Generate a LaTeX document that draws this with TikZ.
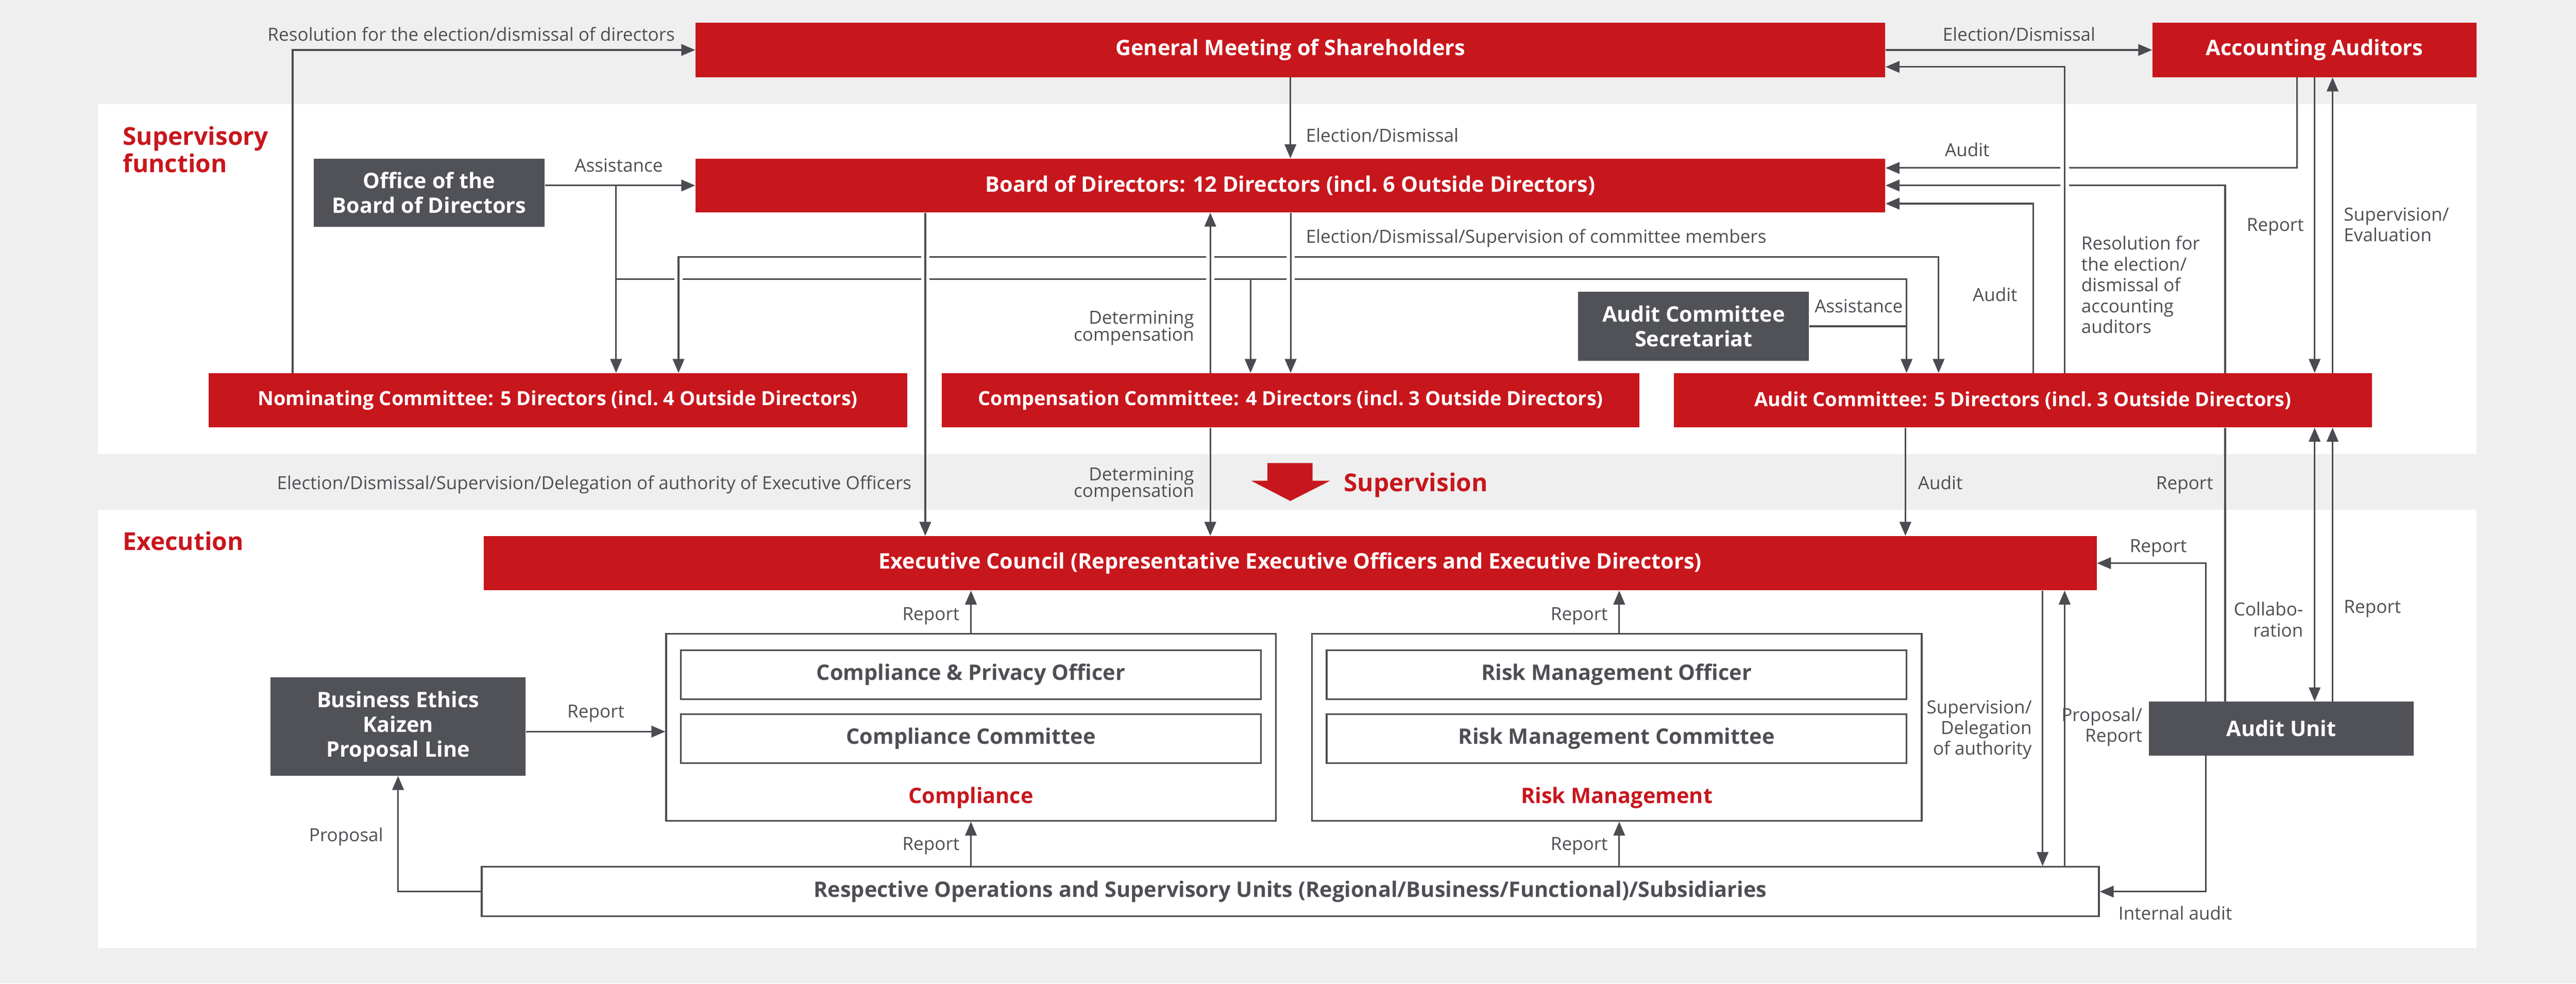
\documentclass[tikz,border=0pt]{standalone}
\usepackage{fontspec}
\setmainfont{Open Sans}
\usetikzlibrary{arrows.meta}
\definecolor{bred}{HTML}{C8161D}
\definecolor{dgray}{HTML}{505257}
\definecolor{lgray}{HTML}{EEEFEE}
\definecolor{lcol}{HTML}{4B4C51}
\definecolor{tcol}{HTML}{4E4F54}
\tikzset{
  redbox/.style={fill=bred, draw=none, text=white, inner sep=0pt, font=\fontsize{13}{15}\selectfont\bfseries},
  combox/.style={redbox, font=\fontsize{11.9}{14}\selectfont\bfseries},
  graybox/.style={fill=dgray, draw=none, text=white, inner sep=0pt, align=center, font=\fontsize{13}{15}\selectfont\bfseries},
  outerbox/.style={fill=white, draw=lcol, line width=1pt, inner sep=0pt},
  innerbox/.style={fill=white, draw=lcol, line width=1pt, inner sep=0pt, text=tcol, font=\fontsize{13}{15}\selectfont\bfseries},
  lbl/.style={text=tcol, inner sep=0pt, font=\fontsize{11}{12.7}\selectfont},
  redlbl/.style={text=bred, inner sep=0pt, font=\fontsize{13}{15}\selectfont\bfseries},
  titlelbl/.style={text=bred, inner sep=0pt, font=\fontsize{15}{17}\selectfont\bfseries},
  conn/.style={draw=lcol, line width=1pt},
  arr/.style={conn, -{Triangle[length=8.5pt,width=7pt]}},
  dblarr/.style={conn, {Triangle[length=8.5pt,width=7pt]}-{Triangle[length=8.5pt,width=7pt]}}
}
\begin{document}
\begin{tikzpicture}[x=1pt,y=-1pt]
\useasboundingbox (0,0) rectangle (1568,598.4);
\fill[lgray] (0,0) rectangle (1568,598.4);
\fill[white] (59.7,63.4) rectangle (1507.5,276.4);
\fill[white] (59.7,310.1) rectangle (1507.5,576.6);

% lanes
\coordinate (xres) at (178.1,0);
\coordinate (xas) at (375,0);
\coordinate (xe1) at (413,0);
\coordinate (xbe) at (563.2,0);
\coordinate (xdc) at (736.7,0);
\coordinate (xas2) at (761.2,0);
\coordinate (xas3) at (1160.5,0);
\coordinate (xae) at (1159.8,0);
\coordinate (xe3) at (1180,0);
\coordinate (xaud) at (1237.6,0);
\coordinate (xsd) at (1243.3,0);
\coordinate (xra) at (1256.7,0);
\coordinate (xpr) at (1256.7,0);
\coordinate (xie) at (1342.7,0);
\coordinate (xau) at (1354.4,0);
\coordinate (xaa) at (1398.2,0);
\coordinate (xr1) at (1408.9,0);
\coordinate (xr2) at (1419.8,0);
\coordinate (xcr) at (591,0);
\coordinate (xrr) at (985.6,0);
\coordinate (yra) at (0,40.7);
\coordinate (yaa) at (0,102.2);
\coordinate (yaud) at (0,123.9);
\coordinate (ye) at (0,156.4);
\coordinate (yas) at (0,169.7);
\coordinate (ybr) at (0,445.1);

% nodes (supervisory)
\node[redbox, minimum width=724.1pt, minimum height=33pt] (gms) at (785.45,30.4) {General Meeting of Shareholders};
\node[redbox, minimum width=197.3pt, minimum height=33pt] (acc) at (1408.85,30.4) {Accounting Auditors};
\node[redbox, minimum width=724.1pt, minimum height=32.7pt] (board) at (785.45,112.85) {Board of Directors: 12 Directors (incl.~6 Outside Directors)};
\node[graybox, minimum width=140.5pt, minimum height=41.5pt] (office) at (261.25,117.25) {Office of the\\Board of Directors};
\node[graybox, minimum width=140.4pt, minimum height=42pt] (sec) at (1030.9,198.5) {Audit Committee\\Secretariat};
\node[combox, minimum width=425.3pt, minimum height=32.9pt] (nom) at (339.55,243.55) {Nominating Committee: 5 Directors (incl.~4 Outside Directors)};
\node[combox, minimum width=424.8pt, minimum height=32.9pt] (comp) at (785.6,243.55) {Compensation Committee: 4 Directors (incl.~3 Outside Directors)};
\node[combox, minimum width=425pt, minimum height=32.9pt] (ac) at (1231.4,243.55) {Audit Committee: 5 Directors (incl.~3 Outside Directors)};

% nodes (execution)
\node[redbox, minimum width=981.7pt, minimum height=32.9pt] (exec) at (785.35,342.65) {Executive Council (Representative Executive Officers and Executive Directors)};
\node[outerbox, minimum width=371pt, minimum height=113.8pt] (cout) at (591,442.5) {};
\node[innerbox, minimum width=353.3pt, minimum height=29.9pt] (cpo) at (590.95,410.45) {Compliance \& Privacy Officer};
\node[innerbox, minimum width=353.3pt, minimum height=29.9pt] (ccom) at (590.95,449.45) {Compliance Committee};
\node[redlbl, anchor=base] (clbl) at (591,488.6) {Compliance};
\node[outerbox, minimum width=371.1pt, minimum height=113.8pt] (rout) at (984.15,442.5) {};
\node[innerbox, minimum width=353pt, minimum height=29.9pt] (rmo) at (984,410.45) {Risk Management Officer};
\node[innerbox, minimum width=353pt, minimum height=29.9pt] (rmc) at (984,449.45) {Risk Management Committee};
\node[redlbl, anchor=base] (rlbl) at (984.1,488.6) {Risk Management};
\node[graybox, minimum width=155.4pt, minimum height=59.8pt] (biz) at (242.3,442) {Business Ethics\\Kaizen\\Proposal Line};
\node[innerbox, minimum width=984.4pt, minimum height=30.1pt] (resp) at (785.4,542.45) {Respective Operations and Supervisory Units (Regional/Business/Functional)/Subsidiaries};
\node[graybox, minimum width=161.3pt, minimum height=32.7pt] (au) at (1388.65,443.25) {Audit Unit};

% connectors (upper)
\draw[arr] (xres |- nom.north) |- (gms.west);
\draw[arr] (gms.east) -- (acc.west);
\draw[arr] (gms.south) -- (board.north);
\draw[arr] (xra |- ac.north) |- (gms.east |- yra);
\draw[arr] (xaa |- acc.south) |- (board.east |- yaa);
\draw[arr] (xau |- ac.north) |- (board.east);
\draw[conn] (xau |- au.north) -- (xau |- ac.south);
\draw[arr] (xaud |- ac.north) |- (board.east |- yaud);
\draw[arr] (xr1 |- acc.south) -- (xr1 |- ac.north);
\draw[arr] (xr2 |- ac.north) -- (xr2 |- acc.south);
\draw[arr] (office.east |- board.west) -- (board.west);
\draw[arr] (xas |- board.west) -- (xas |- nom.north);
\draw[arr] (xas |- yas) -| (xas3 |- ac.north);
\draw[arr] (xas2 |- yas) -- (xas2 |- comp.north);
\draw[conn] (sec.east) -- (xas3 |- sec.east);
\draw[dblarr] (xe1 |- nom.north) |- (xe3 |- ye) -- (xe3 |- ac.north);
\draw[arr] (board.south -| comp.north) -- (comp.north);
\draw[arr] (xdc |- comp.north) -- (xdc |- board.south);
\draw[arr] (xbe |- board.south) -- (xbe |- exec.north);
\draw[arr] (xdc |- comp.south) -- (xdc |- exec.north);
\draw[arr] (xae |- ac.south) -- (xae |- exec.north);
\draw[dblarr] (xr1 |- au.north) -- (xr1 |- ac.south);
\draw[arr] (xr2 |- au.north) -- (xr2 |- ac.south);

% connectors (lower)
\draw[arr] (xie |- au.north) |- (exec.east);
\draw[arr] (xie |- au.south) |- (resp.east);
\draw[arr] (xsd |- exec.south) -- (xsd |- resp.north);
\draw[arr] (xpr |- resp.north) -- (xpr |- exec.south);
\draw[arr] (xcr |- cout.north) -- (xcr |- exec.south);
\draw[arr] (xrr |- rout.north) -- (xrr |- exec.south);
\draw[arr] (xcr |- resp.north) -- (xcr |- cout.south);
\draw[arr] (xrr |- resp.north) -- (xrr |- rout.south);
\draw[arr] (biz.east |- ybr) -- (cout.west |- ybr);
\draw[arr] (resp.west) -| (biz.south);

% line crossings (gaps)
\foreach \gx/\gy in {413/169.7, 563.2/169.7, 736.7/169.7, 785.6/169.7, 563.2/156.4, 736.7/156.4, 785.6/156.4, 1256.7/102.2, 1256.7/113} {
  \fill[white] (\gx-2.6,\gy-1.2) rectangle (\gx+2.6,\gy+1.2);
  \draw[conn] (\gx,\gy-2) -- (\gx,\gy+2);
}

% big supervision arrow
\fill[bred] (771.5,281.7) -- (798.9,281.7) -- (798.9,292.5) -- (809.6,292.5) -- (785.4,304.8) -- (761.6,292.5) -- (771.5,292.5) -- cycle;
\node[titlelbl, anchor=base west] (tsup) at (817.8,298.9) {Supervision};

% section titles
\node[titlelbl, anchor=base west] (t1) at (74.6,88.3) {Supervisory};
\node[titlelbl, anchor=base west] (t2) at (74.6,104.8) {function};
\node[titlelbl, anchor=base west] (t3) at (74.6,334.9) {Execution};

% labels
\node[lbl, anchor=base east] (l1) at (411,24.9) {Resolution for the election/dismissal of directors};
\node[lbl, anchor=base] (l2) at (1229,24.9) {Election/Dismissal};
\node[lbl, anchor=base west] (l3) at (794.7,86.5) {Election/Dismissal};
\node[lbl, anchor=base] (l4) at (376.6,104.5) {Assistance};
\node[lbl, anchor=base west] (l5) at (794.7,147.8) {Election/Dismissal/Supervision of committee members};
\node[lbl, anchor=base east] (l6a) at (727,197.2) {Determining};
\node[lbl, anchor=base east] (l6b) at (727,207.6) {compensation};
\node[lbl, anchor=base] (l7) at (1197.4,95.1) {Audit};
\node[lbl, anchor=base east] (l8) at (1402.5,140.7) {Report};
\node[lbl, anchor=base west] (l9a) at (1426.5,134.5) {Supervision/};
\node[lbl, anchor=base west] (l9b) at (1426.5,147) {Evaluation};
\node[lbl, anchor=base west] (l10a) at (1266.7,151.9) {Resolution for};
\node[lbl, anchor=base west] (l10b) at (1266.7,164.7) {the election/};
\node[lbl, anchor=base west] (l10c) at (1266.7,177.2) {dismissal of};
\node[lbl, anchor=base west] (l10d) at (1266.7,190.1) {accounting};
\node[lbl, anchor=base west] (l10e) at (1266.7,202.6) {auditors};
\node[lbl, anchor=base east] (l11) at (1228.1,183.4) {Audit};
\node[lbl, anchor=base] (l12) at (1131.4,190.1) {Assistance};
\node[lbl, anchor=base east] (l13) at (555,297.8) {Election/Dismissal/Supervision/Delegation of authority of Executive Officers};
\node[lbl, anchor=base east] (l14a) at (727,292.5) {Determining};
\node[lbl, anchor=base east] (l14b) at (727,302.5) {compensation};
\node[lbl, anchor=base west] (l15) at (1167.3,297.8) {Audit};
\node[lbl, anchor=base east] (l16) at (1347.3,297.8) {Report};
\node[lbl, anchor=base] (l17) at (1313.7,336) {Report};
\node[lbl, anchor=base east] (l18a) at (1402.1,374.5) {Collabo-};
\node[lbl, anchor=base east] (l18b) at (1402.1,387.3) {ration};
\node[lbl, anchor=base west] (l19) at (1426.5,373.1) {Report};
\node[lbl, anchor=base east] (l20a) at (1236.9,434.1) {Supervision/};
\node[lbl, anchor=base east] (l20b) at (1236.9,446.8) {Delegation};
\node[lbl, anchor=base east] (l20c) at (1236.9,459.3) {of authority};
\node[lbl, anchor=base east] (l21a) at (1304.1,438.8) {Proposal/};
\node[lbl, anchor=base east] (l21b) at (1304.1,451.5) {Report};
\node[lbl, anchor=base west] (l22) at (1289.3,559.6) {Internal audit};
\node[lbl, anchor=base east] (l23) at (584.2,377.3) {Report};
\node[lbl, anchor=base east] (l24) at (978.8,377.3) {Report};
\node[lbl, anchor=base east] (l25) at (584.2,517.2) {Report};
\node[lbl, anchor=base east] (l26) at (978.8,517.2) {Report};
\node[lbl, anchor=base] (l27) at (362.7,436.7) {Report};
\node[lbl, anchor=base east] (l28) at (233.4,511.9) {Proposal};
\end{tikzpicture}
\end{document}
